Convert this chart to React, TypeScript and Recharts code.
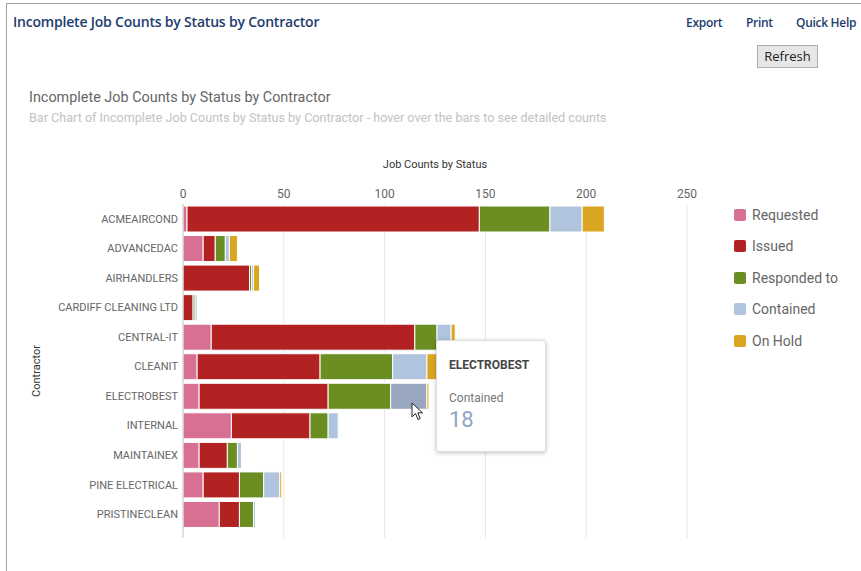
import React from 'react'
import { BarChart, Bar, XAxis, YAxis, Tooltip, Legend, CartesianGrid, Cell } from 'recharts'

const contractors = [
  'ACMEAIRCOND', 'ADVANCEDAC', 'AIRHANDLERS', 'CARDIFF CLEANING LTD', 'CENTRAL-IT', 'CLEANIT',
  'ELECTROBEST', 'INTERNAL', 'MAINTAINEX', 'PINE ELECTRICAL', 'PRISTINECLEAN',
]
const requested = [2, 10, 0, 0, 14, 7, 8, 24, 8, 10, 18]
const issued = [145, 6, 33, 5, 101, 61, 64, 39, 14, 18, 10]
const respondedTo = [35, 5, 1, 1, 11, 36, 31, 9, 5, 12, 7]
const contained = [16, 2, 1, 1, 7, 17, 18, 5, 2, 8, 1]
const onHold = [11, 4, 3, 0, 2, 5, 1, 0, 0, 1, 0]
const xTicks = [0, 50, 100, 150, 200, 250]

const hovered = 'ELECTROBEST'

const series = [
  { key: 'requested', name: 'Requested', color: '#d87093' },
  { key: 'issued', name: 'Issued', color: '#b22222' },
  { key: 'responded', name: 'Responded to', color: '#6b8e23' },
  { key: 'contained', name: 'Contained', color: '#b0c4de' },
  { key: 'onHold', name: 'On Hold', color: '#daa520' },
]

const data = contractors.map((c, i) => ({
  contractor: c,
  requested: requested[i],
  issued: issued[i],
  responded: respondedTo[i],
  contained: contained[i],
  onHold: onHold[i],
}))

const font = 'Roboto, "Noto Sans", sans-serif'

function LegendBox() {
  return (
    <div style={{ fontFamily: font }}>
      {series.map((s) => (
        <div key={s.key} style={{ display: 'flex', alignItems: 'center', height: 31.5 }}>
          <span style={{ width: 12, height: 12, borderRadius: 2, background: s.color, marginRight: 6 }} />
          <span style={{ fontSize: 14, color: '#666' }}>{s.name}</span>
        </div>
      ))}
    </div>
  )
}

function TipBox({ label, payload }: any) {
  const item = (payload || []).find((p: any) => p.dataKey === 'contained')
  if (!item) return null
  return (
    <div
      style={{
        width: 110, height: 112, boxSizing: 'border-box', background: '#fff', border: '1px solid #ddd',
        borderRadius: 3, boxShadow: '0 1px 4px rgba(0,0,0,0.25)', padding: '17px 12px', fontFamily: font,
      }}
    >
      <div style={{ fontSize: 12, fontWeight: 700, color: '#444' }}>{label}</div>
      <div style={{ fontSize: 12, color: '#777', marginTop: 19 }}>{item.name}</div>
      <div style={{ fontSize: 22, color: '#8fa3c4', marginTop: 3, lineHeight: '24px' }}>{item.value}</div>
    </div>
  )
}

function CategoryTick({ x, y, payload }: any) {
  return (
    <text x={x} y={y} dy="0.355em" textAnchor="end" fontSize={11} fill="#666" fontFamily={font}>
      {payload.value}
    </text>
  )
}

export default function App() {
  return (
    <div style={{ position: 'fixed', left: 0, top: 0, width: 861, height: 571, background: '#fff', overflow: 'hidden' }}>
      <div style={{ position: 'absolute', left: 6, top: 3, width: 900, height: 600, borderTop: '1px solid #a0a0a0', borderLeft: '1px solid #a0a0a0' }} />
      <div style={{ position: 'absolute', left: 13, top: 12, fontFamily: '"Open Sans", sans-serif', fontWeight: 600, fontSize: 14, color: '#1d3c6e', letterSpacing: -0.2 }}>
        Incomplete Job Counts by Status by Contractor
      </div>
      {[['Export', 686], ['Print', 746], ['Quick Help', 796]].map(([t, x]) => (
        <div key={t as string} style={{ position: 'absolute', left: x as number, top: 14, fontFamily: '"Open Sans", sans-serif', fontWeight: 600, fontSize: 12, color: '#1d3c6e', letterSpacing: -0.3 }}>
          {t}
        </div>
      ))}
      <div style={{ position: 'absolute', left: 757, top: 45, width: 61, height: 23, boxSizing: 'border-box', border: '1px solid #adadad', background: '#e6e6e6', fontFamily: '"Open Sans", sans-serif', fontSize: 13, color: '#222', textAlign: 'center', lineHeight: '21px' }}>
        Refresh
      </div>
      <div style={{ position: 'absolute', left: 29, top: 89, fontFamily: font, fontSize: 14.4, color: '#666' }}>
        Incomplete Job Counts by Status by Contractor
      </div>
      <div style={{ position: 'absolute', left: 29, top: 110, fontFamily: font, fontSize: 12.6, color: '#c2c2c2' }}>
        Bar Chart of Incomplete Job Counts by Status by Contractor - hover over the bars to see detailed counts
      </div>

      <div style={{ position: 'absolute', left: 0, top: 0 }}>
        <BarChart
          width={861}
          height={571}
          data={data}
          layout="vertical"
          margin={{ top: 174, right: 174, bottom: 33, left: 28 }}
          barSize={26}
        >
          <CartesianGrid horizontal={false} stroke="#e6e6e6" />
          <XAxis
            type="number"
            orientation="top"
            domain={[0, 250]}
            ticks={xTicks}
            height={30}
            axisLine={false}
            tickLine={false}
            tickSize={0}
            tickMargin={6}
            tick={{ fontSize: 12, fill: '#666', fontFamily: font }}
            label={{ value: 'Job Counts by Status', position: 'top', offset: 6, fontSize: 11, fill: '#333', fontFamily: font }}
          />
          <YAxis
            type="category"
            dataKey="contractor"
            width={155}
            padding={{ top: 0, bottom: 9 }}
            axisLine={{ stroke: '#ccc' }}
            tickLine={false}
            tickSize={0}
            tickMargin={5}
            interval={0}
            tick={<CategoryTick />}
            label={{ value: 'Contractor', angle: -90, position: 'insideLeft', offset: 8, fontSize: 11, fill: '#333', fontFamily: font, style: { textAnchor: 'middle' } }}
          />
          <Tooltip
            active
            defaultIndex={6}
            cursor={false}
            position={{ x: 436, y: 340 }}
            isAnimationActive={false}
            content={<TipBox />}
            wrapperStyle={{ outline: 'none' }}
          />
          <Legend
            layout="horizontal"
            verticalAlign="middle"
            align="center"
            content={<LegendBox />}
            wrapperStyle={{ left: 734, top: 199, width: 127, right: 'auto', bottom: 'auto' }}
          />
          {series.map((s) => (
            <Bar
              key={s.key}
              dataKey={s.key}
              name={s.name}
              stackId="a"
              fill={s.color}
              stroke="#fff"
              strokeWidth={1}
              activeBar={false}
              isAnimationActive={false}
            >
              {s.key === 'contained' &&
                data.map((d) => <Cell key={d.contractor} fill={d.contractor === hovered ? '#98a7bf' : s.color} />)}
            </Bar>
          ))}
        </BarChart>
      </div>
      <svg style={{ position: 'absolute', left: 411, top: 402 }} width="14" height="20" viewBox="0 0 14 20">
        <path d="M1 1 L1 15 L4.5 11.5 L7 17.5 L9.2 16.6 L6.8 10.8 L11.5 10.8 Z" fill="#fff" stroke="#222" strokeWidth="1" />
      </svg>
    </div>
  )
}
